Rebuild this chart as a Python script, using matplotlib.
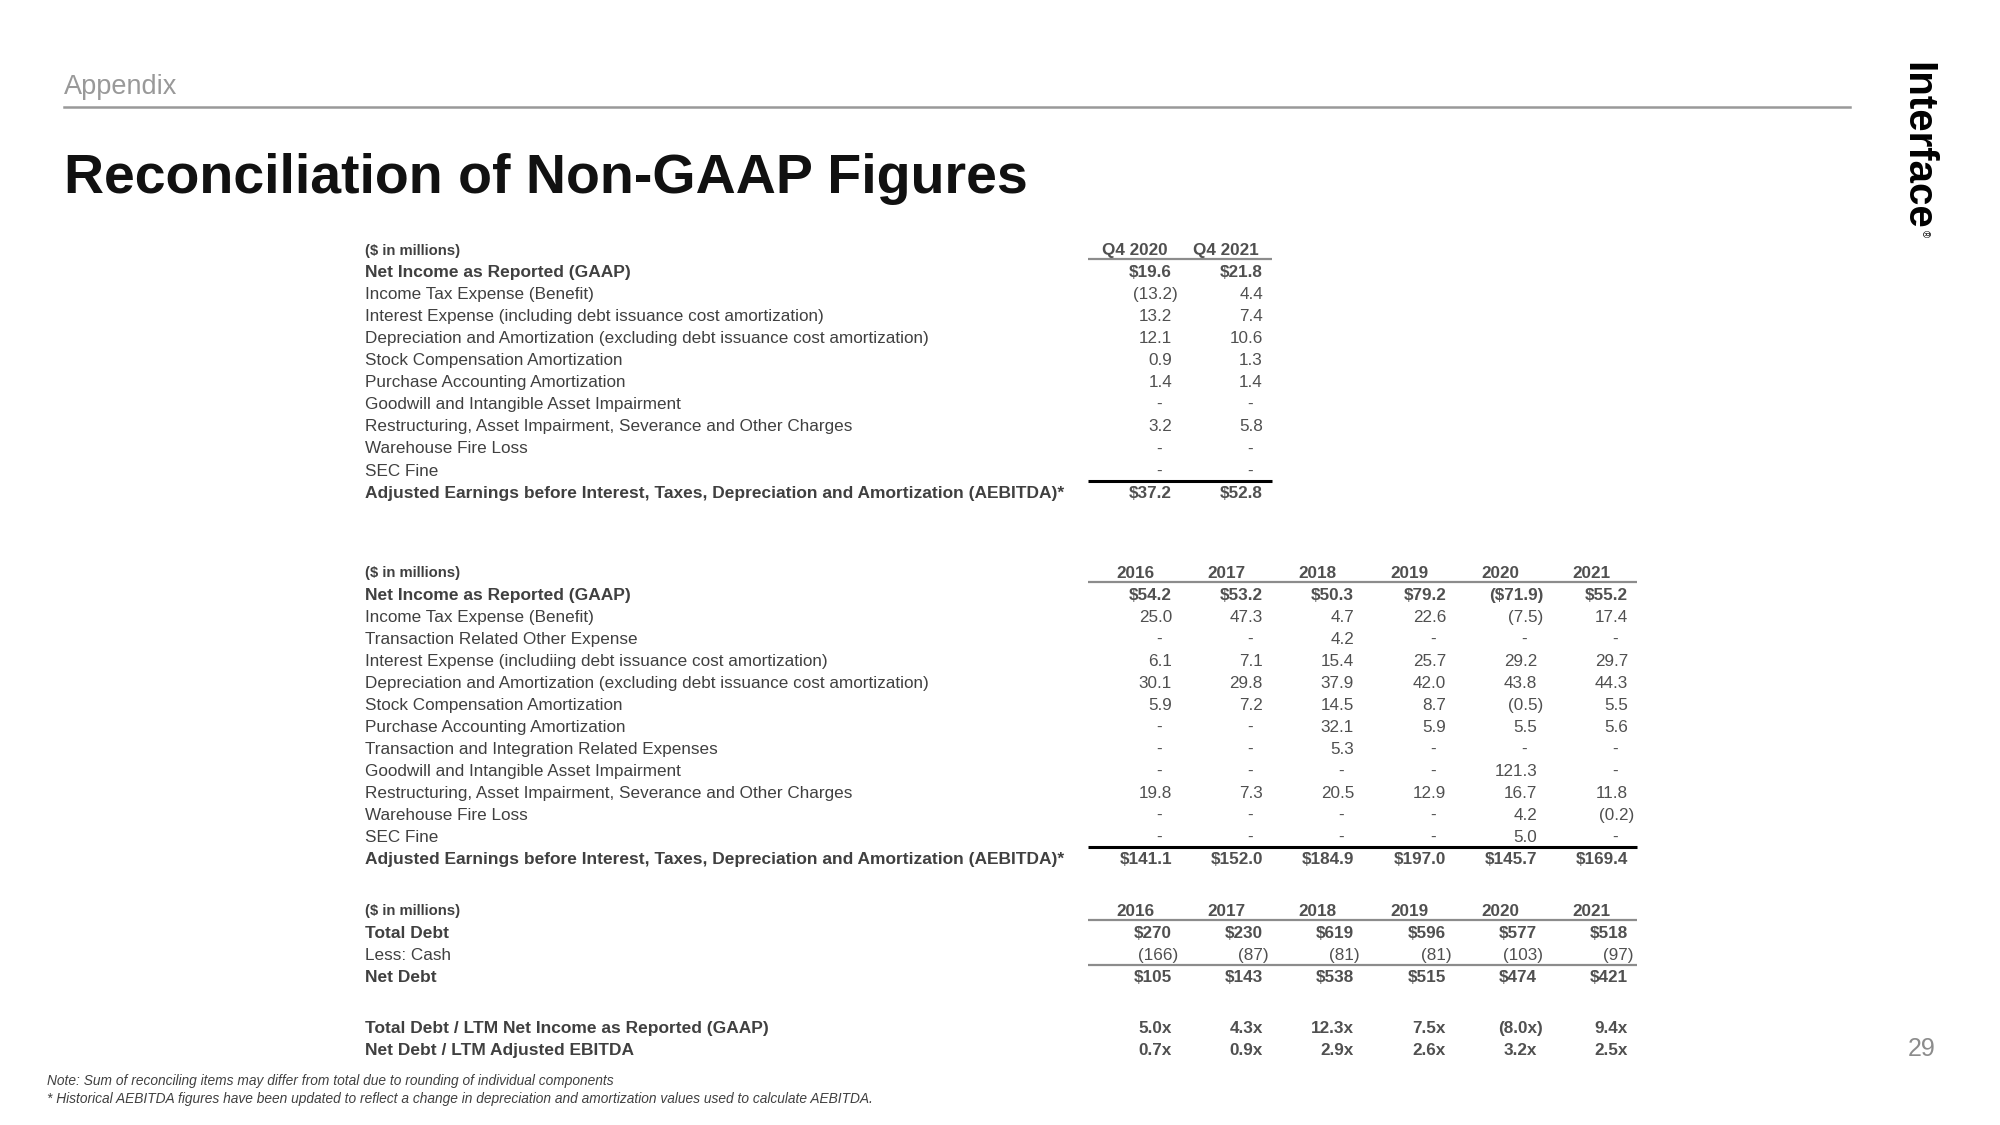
import matplotlib
matplotlib.use("Agg")
import matplotlib.pyplot as plt

plt.rcParams["font.family"] = ["Liberation Sans", "DejaVu Sans"]

# ---- data ----
q4_cols = ["Q4 2020", "Q4 2021"]
q4_labels = [
    "Net Income as Reported (GAAP)",
    "Income Tax Expense (Benefit)",
    "Interest Expense (including debt issuance cost amortization)",
    "Depreciation and Amortization (excluding debt issuance cost amortization)",
    "Stock Compensation Amortization",
    "Purchase Accounting Amortization",
    "Goodwill and Intangible Asset Impairment",
    "Restructuring, Asset Impairment, Severance and Other Charges",
    "Warehouse Fire Loss",
    "SEC Fine",
]
q4_values = [
    [19.6, 21.8],
    [-13.2, 4.4],
    [13.2, 7.4],
    [12.1, 10.6],
    [0.9, 1.3],
    [1.4, 1.4],
    [None, None],
    [3.2, 5.8],
    [None, None],
    [None, None],
]
q4_aebitda = [37.2, 52.8]

years = ["2016", "2017", "2018", "2019", "2020", "2021"]
annual_labels = [
    "Net Income as Reported (GAAP)",
    "Income Tax Expense (Benefit)",
    "Transaction Related Other Expense",
    "Interest Expense (includiing debt issuance cost amortization)",
    "Depreciation and Amortization (excluding debt issuance cost amortization)",
    "Stock Compensation Amortization",
    "Purchase Accounting Amortization",
    "Transaction and Integration Related Expenses",
    "Goodwill and Intangible Asset Impairment",
    "Restructuring, Asset Impairment, Severance and Other Charges",
    "Warehouse Fire Loss",
    "SEC Fine",
]
net_income = [54.2, 53.2, 50.3, 79.2, -71.9, 55.2]
income_tax = [25.0, 47.3, 4.7, 22.6, -7.5, 17.4]
transaction_other = [None, None, 4.2, None, None, None]
interest = [6.1, 7.1, 15.4, 25.7, 29.2, 29.7]
dep_amort = [30.1, 29.8, 37.9, 42.0, 43.8, 44.3]
stock_comp = [5.9, 7.2, 14.5, 8.7, -0.5, 5.5]
purchase_acct = [None, None, 32.1, 5.9, 5.5, 5.6]
transaction_integration = [None, None, 5.3, None, None, None]
goodwill = [None, None, None, None, 121.3, None]
restructuring = [19.8, 7.3, 20.5, 12.9, 16.7, 11.8]
fire_loss = [None, None, None, None, 4.2, -0.2]
sec_fine = [None, None, None, None, 5.0, None]
annual_aebitda = [141.1, 152.0, 184.9, 197.0, 145.7, 169.4]
annual_rows = [net_income, income_tax, transaction_other, interest, dep_amort,
               stock_comp, purchase_acct, transaction_integration, goodwill,
               restructuring, fire_loss, sec_fine]

total_debt = [270, 230, 619, 596, 577, 518]
less_cash = [-166, -87, -81, -81, -103, -97]
net_debt = [105, 143, 538, 515, 474, 421]
debt_to_ni = [5.0, 4.3, 12.3, 7.5, -8.0, 9.4]
net_debt_to_ebitda = [0.7, 0.9, 2.9, 2.6, 3.2, 2.5]

AEBITDA_LABEL = "Adjusted Earnings before Interest, Taxes, Depreciation and Amortization (AEBITDA)*"

# ---- style ----
LABEL_C = "#404040"
VALUE_C = "#505050"
LINE_GRAY = "#8c8c8c"
FS = 12.3
FS_BOLD = 12.5
ROW_H = 22.05
X_LABEL = 365
Q4_EDGES = [1172, 1263]
YEAR_EDGES = [1172, 1263, 1354, 1446, 1537, 1628]


def fmt(v, money=False, dec=1, suffix=""):
    s = f"{abs(v):,.{dec}f}{suffix}"
    if money:
        s = "$" + s
    return f"({s})" if v < 0 else s


def put_value(ax, x, y, v, bold=False, money=False, dec=1, suffix=""):
    weight = "bold" if bold else "normal"
    kw = dict(ha="right", va="center_baseline", fontsize=FS, color=VALUE_C, fontweight=weight)
    if v is None:
        ax.text(x - 10, y, "-", **kw)
    elif v < 0:
        ax.text(x + 6, y, fmt(v, money, dec, suffix), **kw)
    else:
        ax.text(x, y, fmt(v, money, dec, suffix), **kw)


def put_label(ax, y, text, bold=False, size=None):
    if size is None:
        size = FS_BOLD if bold else FS
    ax.text(X_LABEL, y, text, ha="left", va="center_baseline", fontsize=size,
            color=LABEL_C, fontweight="bold" if bold else "normal")


def header(ax, y, cols, edges):
    put_label(ax, y, "($ in millions)", bold=True, size=10.7)
    for c, e in zip(cols, edges):
        ax.text(e - 37, y, c, ha="center", va="center_baseline", fontsize=FS,
                color=VALUE_C, fontweight="bold")
    ax.plot([edges[0] - 84, edges[-1] + 9], [y + 10, y + 10], color=LINE_GRAY, lw=1.6,
            solid_capstyle="butt")


def rule(ax, y, edges, color="black", lw=2.2):
    ax.plot([edges[0] - 84, edges[-1] + 9], [y, y], color=color, lw=lw, solid_capstyle="butt")


fig = plt.figure(figsize=(20, 11.25), dpi=100)
ax = fig.add_axes([0, 0, 1, 1])
ax.set_xlim(0, 2000)
ax.set_ylim(1125, 0)
ax.axis("off")

# slide header
ax.text(64, 94, "Appendix", fontsize=19.5, color="#999999", ha="left", va="baseline")
ax.plot([64, 1850], [107, 107], color="#999999", lw=1.8)
ax.text(64, 193, "Reconciliation of Non-GAAP Figures", fontsize=40, fontweight="bold",
        color="#111111", ha="left", va="baseline")
ax.text(1917, 62, "Interface", fontsize=29, fontweight="bold", color="black",
        rotation=-90, ha="center", va="top")
ax.text(1925, 234, "®", fontsize=7, color="black", rotation=-90, ha="center", va="center")
ax.text(1922, 1046, "29", fontsize=18, color="#8c8c8c", ha="center", va="center_baseline")

# table 1: quarterly
y0 = 249
header(ax, y0, q4_cols, Q4_EDGES)
for i, (lab, vals) in enumerate(zip(q4_labels, q4_values)):
    y = y0 + ROW_H * (i + 1)
    bold = i == 0
    put_label(ax, y, lab, bold=bold)
    for e, v in zip(Q4_EDGES, vals):
        put_value(ax, e, y, v, bold=bold, money=bold)
y = y0 + ROW_H * (len(q4_labels) + 1)
rule(ax, y - 11, Q4_EDGES)
put_label(ax, y, AEBITDA_LABEL, bold=True)
for e, v in zip(Q4_EDGES, q4_aebitda):
    put_value(ax, e, y, v, bold=True, money=True)

# table 2: annual
y0 = 571.5
header(ax, y0, years, YEAR_EDGES)
for i, (lab, vals) in enumerate(zip(annual_labels, annual_rows)):
    y = y0 + ROW_H * (i + 1)
    bold = i == 0
    put_label(ax, y, lab, bold=bold)
    for e, v in zip(YEAR_EDGES, vals):
        put_value(ax, e, y, v, bold=bold, money=bold)
y = y0 + ROW_H * (len(annual_labels) + 1)
rule(ax, y - 11, YEAR_EDGES)
put_label(ax, y, AEBITDA_LABEL, bold=True)
for e, v in zip(YEAR_EDGES, annual_aebitda):
    put_value(ax, e, y, v, bold=True, money=True)

# table 3: debt
y0 = 909.5
header(ax, y0, years, YEAR_EDGES)
debt_rows = [("Total Debt", total_debt, True), ("Less: Cash", less_cash, False),
             ("Net Debt", net_debt, True)]
for i, (lab, vals, bold) in enumerate(debt_rows):
    y = y0 + ROW_H * (i + 1)
    put_label(ax, y, lab, bold=bold)
    for e, v in zip(YEAR_EDGES, vals):
        put_value(ax, e, y, v, bold=bold, money=bold, dec=0)
rule(ax, y0 + ROW_H * 3 - 11, YEAR_EDGES, color=LINE_GRAY, lw=1.6)

ratio_rows = [("Total Debt / LTM Net Income as Reported (GAAP)", debt_to_ni),
              ("Net Debt / LTM Adjusted EBITDA", net_debt_to_ebitda)]
for i, (lab, vals) in enumerate(ratio_rows):
    y = 1027 + ROW_H * i
    put_label(ax, y, lab, bold=True)
    for e, v in zip(YEAR_EDGES, vals):
        put_value(ax, e, y, v, bold=True, suffix="x")

# footnotes
ax.text(47, 1080, "Note: Sum of reconciling items may differ from total due to rounding of individual components",
        fontsize=9.9, style="italic", color=LABEL_C, ha="left", va="center_baseline")
ax.text(47, 1098, "* Historical AEBITDA figures have been updated to reflect a change in depreciation and amortization values used to calculate AEBITDA.",
        fontsize=9.9, style="italic", color=LABEL_C, ha="left", va="center_baseline")

fig.savefig("out.png", dpi=100)
